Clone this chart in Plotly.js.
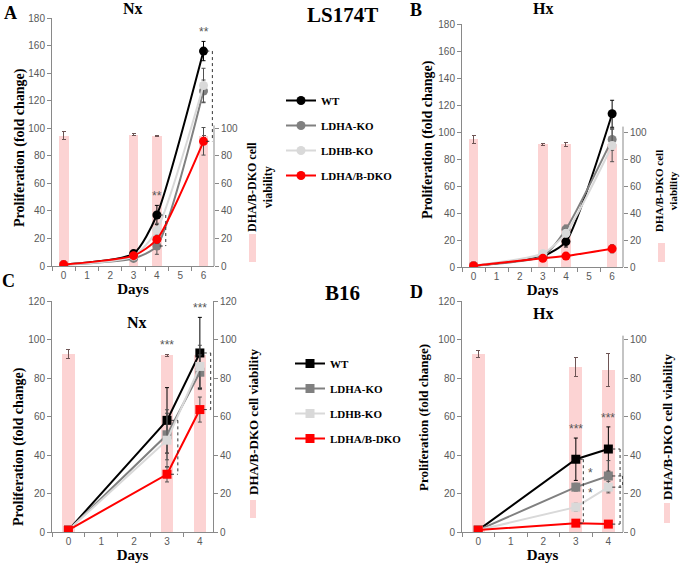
<!DOCTYPE html>
<html><head><meta charset="utf-8">
<script src="https://cdn.plot.ly/plotly-3.0.1.min.js"></script>
<style>html,body{margin:0;padding:0;background:#fff}#chart{width:683px;height:565px}</style>
</head><body><div id="chart"></div>
<script>
// ---------- DATA ----------
const seriesNames = ['WT', 'LDHA-KO', 'LDHB-KO', 'LDHA/B-DKO'];
const catsLS = ['0','1','2','3','4','5','6'];
const catsB16 = ['0','1','2','3','4'];
const daysLS = [0, 3, 4, 6];
const daysB16 = [0, 3, 4];

// Panel A: LS174T Nx
const A_WT = [1, 9, 37, 156];      const A_WT_err = [0.3, 1, 7, 7];
const A_LDHA = [1, 5.5, 14.5, 127];  const A_LDHA_err = [0.3, 1, 6, 8];
const A_LDHB = [1, 7, 26, 131];    const A_LDHB_err = [0.3, 1, 5, 12.5];
const A_DKO = [1, 7.5, 19.3, 90.5];  const A_DKO_err = [0.3, 1, 3, 10];
const A_viab = [94.5, 95.2, 94.5, 94]; const A_viab_err = [2.8, 0.7, 0.3, 1];

// Panel B: LS174T Hx
const B_WT = [1, 8, 18.8, 113.5];  const B_WT_err = [0.3, 1, 4, 10];
const B_LDHA = [1, 8, 28, 94.5];   const B_LDHA_err = [0.3, 1, 3, 8];
const B_LDHB = [1, 10, 25, 90];    const B_LDHB_err = [0.3, 1, 3, 12];
const B_DKO = [1, 6.4, 8.1, 13.5]; const B_DKO_err = [0.3, 1, 1, 3];
const B_viab = [94.5, 91, 91, 91]; const B_viab_err = [3, 0.7, 1.5, 0];

// Panel C: B16 Nx
const C_WT = [1, 58, 93];       const C_WT_err = [0.5, 17, 18.5];
const C_LDHA = [1, 50.5, 83];   const C_LDHA_err = [0.5, 13, 9];
const C_LDHB = [1, 47.7, 86];   const C_LDHB_err = [0.5, 14, 11];
const C_DKO = [1, 30, 63.6];    const C_DKO_err = [0.5, 4, 6.5];
const C_viab = [92.6, 91.8, 92]; const C_viab_err = [2.3, 0.5, 0];

// Panel D: B16 Hx
const D_WT = [1, 37.8, 43.1];   const D_WT_err = [0.5, 11, 11.5];
const D_LDHA = [1, 23.3, 29.1]; const D_LDHA_err = [0.5, 2, 8];
const D_LDHB = [1, 12.9, 23.3]; const D_LDHB_err = [0.5, 2, 3];
const D_DKO = [1, 4.6, 4.1];    const D_DKO_err = [0.5, 1, 1];
const D_viab = [92.5, 85.7, 84.3]; const D_viab_err = [2, 4.8, 8.6];

// ---------- STYLE ----------
const W = 683, H = 565;
const lineColors = ['#000000', '#808080', '#d9d9d9', '#ff0000'];
const errColors = ['#000000', '#505050', '#505050', '#505050'];
const pink = '#fcd3d3';
const axisGray = '#898989';
const serif = 'Liberation Serif';
const sans = 'Liberation Sans';
const tickFont = {family: sans, size: 10, color: '#595959'};
const px = v => v / W;
const py = v => 1 - v / H;

const traces = [];
function addPanel(p) {
  const cats = p.days.map(String);
  traces.push({
    type: 'bar', x: cats, y: p.viab, xaxis: p.xa, yaxis: p.yR, width: p.barW,
    marker: {color: pink}, showlegend: false, hoverinfo: 'skip',
    error_y: {type: 'data', array: p.viabErr, color: '#6e5555', thickness: 1, width: 2}
  });
  p.series.forEach((s, i) => {
    traces.push({
      type: 'scatter', mode: 'lines+markers', x: cats, y: s.y, xaxis: p.xa, yaxis: p.yL,
      name: seriesNames[i], legend: p.legend, showlegend: p.showLegend,
      legendgroup: p.legend + i,
      line: {color: lineColors[i], width: 2, shape: p.spline ? 'spline' : 'linear', smoothing: 0.6},
      marker: {symbol: p.symbol, size: 9, color: lineColors[i]},
      error_y: {type: 'data', array: s.err, color: errColors[i], thickness: 1, width: 2}
    });
  });
}

addPanel({xa: 'x', yR: 'y', yL: 'y2', days: daysLS, barW: 0.42, spline: true, symbol: 'circle',
  legend: 'legend', showLegend: true, viab: A_viab, viabErr: A_viab_err,
  series: [{y: A_WT, err: A_WT_err}, {y: A_LDHA, err: A_LDHA_err}, {y: A_LDHB, err: A_LDHB_err}, {y: A_DKO, err: A_DKO_err}]});
addPanel({xa: 'x2', yR: 'y3', yL: 'y4', days: daysLS, barW: 0.42, spline: true, symbol: 'circle',
  legend: 'legend', showLegend: false, viab: B_viab, viabErr: B_viab_err,
  series: [{y: B_WT, err: B_WT_err}, {y: B_LDHA, err: B_LDHA_err}, {y: B_LDHB, err: B_LDHB_err}, {y: B_DKO, err: B_DKO_err}]});
addPanel({xa: 'x3', yR: 'y5', yL: 'y6', days: daysB16, barW: 0.38, spline: false, symbol: 'square',
  legend: 'legend2', showLegend: true, viab: C_viab, viabErr: C_viab_err,
  series: [{y: C_WT, err: C_WT_err}, {y: C_LDHA, err: C_LDHA_err}, {y: C_LDHB, err: C_LDHB_err}, {y: C_DKO, err: C_DKO_err}]});
addPanel({xa: 'x4', yR: 'y7', yL: 'y8', days: daysB16, barW: 0.4, spline: false, symbol: 'square',
  legend: 'legend2', showLegend: false, viab: D_viab, viabErr: D_viab_err,
  series: [{y: D_WT, err: D_WT_err}, {y: D_LDHA, err: D_LDHA_err}, {y: D_LDHB, err: D_LDHB_err}, {y: D_DKO, err: D_DKO_err}]});

function xAxis(domPx, cats, range, yAnchor) {
  return {domain: [px(domPx[0]), px(domPx[1])], anchor: yAnchor, type: 'category',
    categoryorder: 'array', categoryarray: cats, range: range,
    showline: true, linecolor: axisGray, linewidth: 1, ticks: 'outside', tickson: 'boundaries',
    ticklen: 4, tickcolor: axisGray, showgrid: false, zeroline: false, tickfont: tickFont,
    title: {text: 'Days', font: {family: serif, size: 15, weight: 'bold', color: '#000'}, standoff: 2}};
}
function yRight(domPx, xAnchor, range, tickvals, showline) {
  return {domain: [py(domPx[1]), py(domPx[0])], anchor: xAnchor, side: 'right', range: range,
    tickvals: tickvals, showline: showline, linecolor: axisGray, ticks: 'outside', ticklen: 4,
    tickcolor: axisGray, showgrid: false, zeroline: false, tickfont: tickFont};
}
function yLeft(over, xAnchor, range, dtick) {
  return {overlaying: over, anchor: xAnchor, side: 'left', range: range, dtick: dtick, tick0: 0,
    showline: true, linecolor: axisGray, ticks: 'outside', ticklen: 4, tickcolor: axisGray,
    showgrid: false, zeroline: false, tickfont: tickFont};
}

const layout = {
  width: W, height: H, autosize: false,
  margin: {l: 0, r: 0, t: 0, b: 0, pad: 0},
  paper_bgcolor: '#fff', plot_bgcolor: 'rgba(0,0,0,0)',
  bargap: 0,
  xaxis: xAxis([52, 214], catsLS, [-0.5, 6.45], 'y'),
  yaxis: yRight([18, 266], 'x', [0, 180], [0, 20, 40, 60, 80, 100], false),
  yaxis2: yLeft('y', 'x', [0, 180], 20),
  xaxis2: xAxis([462, 623], catsLS, [-0.5, 6.47], 'y3'),
  yaxis3: yRight([24, 267], 'x2', [0, 180], [0, 20, 40, 60, 80, 100], false),
  yaxis4: yLeft('y3', 'x2', [0, 180], 20),
  xaxis3: xAxis([52, 213], catsB16, [-0.5, 4.4], 'y5'),
  yaxis5: yRight([301, 532], 'x3', [0, 120], [0, 20, 40, 60, 80, 100, 120], true),
  yaxis6: yLeft('y5', 'x3', [0, 120], 20),
  xaxis4: xAxis([462, 623], catsB16, [-0.5, 4.45], 'y7'),
  yaxis7: yRight([301, 532], 'x4', [0, 120], [0, 20, 40, 60, 80, 100], false),
  yaxis8: yLeft('y7', 'x4', [0, 120], 20),
  legend: {x: px(281), y: py(86), xanchor: 'left', yanchor: 'top', bgcolor: 'rgba(0,0,0,0)',
    font: {family: serif, size: 11, weight: 'bold', color: '#000'}, traceorder: 'grouped', tracegroupgap: 6,
    itemwidth: 30},
  legend2: {x: px(290), y: py(349), xanchor: 'left', yanchor: 'top', bgcolor: 'rgba(0,0,0,0)',
    font: {family: serif, size: 11, weight: 'bold', color: '#000'}, traceorder: 'grouped', tracegroupgap: 6,
    itemwidth: 30},
  shapes: [], annotations: []
};

// partial right axis lines
function rightLine(xa, ya, top) {
  layout.shapes.push({type: 'line', xref: xa + ' domain', yref: ya, x0: 1, x1: 1, y0: 0, y1: top,
    line: {color: axisGray, width: 1}});
}
rightLine('x', 'y', 102); rightLine('x2', 'y3', 104); rightLine('x4', 'y7', 102);

// significance brackets (dotted)
function bracket(xa, ya, day, xb, top, bottom) {
  const ln = {color: '#333', width: 1, dash: 'dot'};
  layout.shapes.push({type: 'line', xref: xa, yref: ya, x0: xb, x1: xb, y0: top, y1: bottom, line: ln});
  layout.shapes.push({type: 'line', xref: xa, yref: ya, x0: day + 0.12, x1: xb, y0: top, y1: top, line: ln});
  layout.shapes.push({type: 'line', xref: xa, yref: ya, x0: day + 0.12, x1: xb, y0: bottom, y1: bottom, line: ln});
}
bracket('x', 'y2', 4, 4.38, A_WT[2], A_LDHA[2]);
bracket('x', 'y2', 6, 6.38, A_WT[3], A_DKO[3]);
bracket('x3', 'y6', 3, 3.33, C_WT[1], C_DKO[1]);
bracket('x3', 'y6', 4, 4.33, C_WT[2], C_DKO[2]);
bracket('x4', 'y8', 3, 3.23, D_WT[1], D_DKO[1]);
bracket('x4', 'y8', 4, 4.36, D_WT[2], D_DKO[2]);
bracket('x4', 'y8', 4, 4.44, D_LDHA[2], D_LDHB[2]);

// stars
function star(xa, ya, x, y, txt, anchor) {
  layout.annotations.push({xref: xa, yref: ya, x: x, y: y, text: txt, showarrow: false,
    yanchor: anchor || 'bottom', xanchor: 'center',
    font: {family: sans, size: 12, color: '#555'}});
}
star('x', 'y2', 6, A_WT[3] + A_WT_err[3], '**');
star('x', 'y2', 4, A_WT[2] + A_WT_err[2], '**');
star('x3', 'y6', 3, C_viab[1] + C_viab_err[1], '***');
star('x3', 'y6', 4, C_WT[2] + C_WT_err[2], '***');
star('x4', 'y8', 3, D_WT[1] + D_WT_err[1], '***');
star('x4', 'y8', 4, D_WT[2] + D_WT_err[2], '***');
star('x4', 'y8', 3.45, (D_WT[1] + D_LDHA[1]) / 2, '*', 'middle');
star('x4', 'y8', 3.45, (D_LDHA[1] + D_LDHB[1]) / 2 + 2, '*', 'middle');
star('x4', 'y8', 4.58, (D_WT[2] + D_LDHA[2]) / 2, '*', 'middle');
star('x4', 'y8', 4.62, D_LDHA[2] - 1, '**', 'middle');

// text labels in pixel positions
function txt(x, y, text, size, opts) {
  layout.annotations.push(Object.assign({xref: 'paper', yref: 'paper', x: px(x), y: py(y), text: text,
    showarrow: false, xanchor: 'center', yanchor: 'middle',
    font: {family: serif, size: size, weight: 'bold', color: '#000'}}, opts || {}));
}
txt(10, 13, 'A', 18); txt(416, 10, 'B', 18); txt(8, 281, 'C', 18); txt(416, 292, 'D', 18);
txt(342, 15, 'LS174T', 21); txt(342, 293, 'B16', 21);
txt(133, 8, 'Nx', 16); txt(543, 8, 'Hx', 16); txt(137, 322, 'Nx', 16); txt(543, 313, 'Hx', 16);
// left axis titles
const yTitle = 'Proliferation (fold change)';
txt(20, 148, yTitle, 14, {textangle: -90});
txt(428, 140, yTitle, 14, {textangle: -90});
txt(19, 447, yTitle, 14, {textangle: -90});
txt(423, 418, yTitle, 13, {textangle: -90});
// right titles
txt(260, 187, 'DHA/B-DKO cell<br>viability', 12, {textangle: -90});
txt(666, 191, 'DHA/B-DKO cell<br>viability', 11, {textangle: -90});
txt(253, 422, 'DHA/B-DKO cell viability', 13, {textangle: -90});
txt(667, 427, 'DHA/B-DKO cell viability', 13, {textangle: -90});

// bar legend swatches
function swatch(x0, x1, y0, y1) {
  layout.shapes.push({type: 'rect', xref: 'paper', yref: 'paper', x0: px(x0), x1: px(x1), y0: py(y1), y1: py(y0),
    fillcolor: pink, line: {width: 0}});
}
swatch(249, 256, 234, 262); swatch(658, 665, 243, 262); swatch(250, 256, 500, 518); swatch(664, 670, 503, 523);

Plotly.newPlot('chart', traces, layout, {displayModeBar: false, staticPlot: true});
</script></body></html>
